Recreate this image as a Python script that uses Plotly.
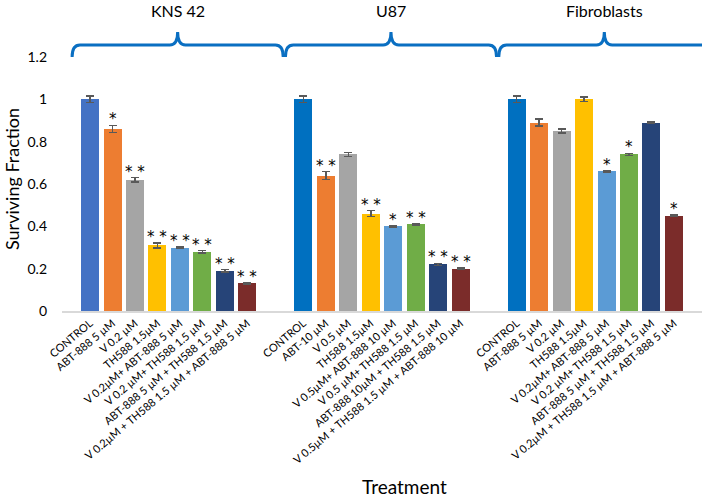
import plotly.graph_objects as go

# ---------------- data ----------------
groups = ["KNS 42", "U87", "Fibroblasts"]

kns_labels = ["CONTROL", "ABT-888 5 µM", "V 0.2 µM", "TH588 1.5µM",
              "V 0.2µM+ ABT-888 5 µM", "V 0.2 µM+ TH588 1.5 µM",
              "ABT-888 5 µM + TH588 1.5 µM",
              "V 0.2µM + TH588 1.5 µM + ABT-888 5 µM"]
u87_labels = ["CONTROL", "ABT-10 µM", "V 0.5 µM", "TH588 1.5µM",
              "V 0.5µM+ ABT-888 10 µM", "V 0.5 µM+ TH588 1.5 µM",
              "ABT-888 10µM + TH588 1.5 µM",
              "V 0.5µM + TH588 1.5 µM + ABT-888 10 µM"]
fib_labels = ["CONTROL", "ABT-888 5 µM", "V 0.2 µM", "TH588 1.5µM",
              "V 0.2µM+ ABT-888 5 µM", "V 0.2 µM+ TH588 1.5 µM",
              "ABT-888 5 µM + TH588 1.5 µM",
              "V 0.2µM + TH588 1.5 µM + ABT-888 5 µM"]

kns_values = [1.00, 0.86, 0.62, 0.31, 0.30, 0.28, 0.19, 0.13]
u87_values = [1.00, 0.64, 0.74, 0.46, 0.40, 0.41, 0.22, 0.20]
fib_values = [1.00, 0.89, 0.85, 1.00, 0.66, 0.74, 0.89, 0.45]

kns_err = [0.015, 0.017, 0.010, 0.012, 0.003, 0.005, 0.005, 0.003]
u87_err = [0.015, 0.018, 0.010, 0.014, 0.003, 0.003, 0.005, 0.003]
fib_err = [0.015, 0.017, 0.010, 0.010, 0.003, 0.005, 0.003, 0.003]

kns_sig = ["", "*", "**", "**", "**", "**", "**", "**"]
u87_sig = ["", "**", "", "**", "*", "**", "**", "**"]
fib_sig = ["", "", "", "", "*", "*", "", "*"]

y_ticks = [0, 0.2, 0.4, 0.6, 0.8, 1, 1.2]
y_tick_text = ["0", "0.2", "0.4", "0.6", "0.8", "1", "1.2"]

# ---------------- styling ----------------
kns_colors = ["#4472C4", "#ED7D31", "#A5A5A5", "#FFC000", "#5B9BD5", "#70AD47", "#264478", "#7B2C2A"]
other_colors = ["#0070C0", "#ED7D31", "#A5A5A5", "#FFC000", "#5B9BD5", "#70AD47", "#264478", "#7B2C2A"]
FONT = "Lato"
BRACE = "#0A6FC2"
group_step = 9.5

all_labels = [kns_labels, u87_labels, fib_labels]
all_values = [kns_values, u87_values, fib_values]
all_err = [kns_err, u87_err, fib_err]
all_sig = [kns_sig, u87_sig, fib_sig]
all_colors = [kns_colors, other_colors, other_colors]

fig = go.Figure()
xs, ys, es, cs, tt = [], [], [], [], []
annotations = []
shapes = []
for g, name in enumerate(groups):
    gx = [g * group_step + i for i in range(len(all_values[g]))]
    xs += gx
    ys += all_values[g]
    es += all_err[g]
    cs += all_colors[g]
    tt += all_labels[g]
    for x, v, e, s in zip(gx, all_values[g], all_err[g], all_sig[g]):
        if s:
            annotations.append(dict(
                x=x, y=v + e, xref="x", yref="y", text=" ".join(s),
                showarrow=False, yanchor="bottom", yshift=-5,
                font=dict(family="DejaVu Sans", size=15, color="#000000")))
    # brace
    left = gx[0] - 0.8
    right = gx[-1] + 1.6
    mid = (left + right) / 2
    yb, yl, yt = 1.0, 1.047, 1.098
    r = 0.35
    path = (f"M {left},{yb} Q {left},{yl} {left + r},{yl} "
            f"L {mid - r},{yl} Q {mid},{yl} {mid},{yt} "
            f"Q {mid},{yl} {mid + r},{yl} L {right - r},{yl} "
            f"Q {right},{yl} {right},{yb}")
    shapes.append(dict(type="path", path=path, xref="x", yref="paper",
                       line=dict(color=BRACE, width=3)))
    annotations.append(dict(
        x=mid, y=1.182, xref="x", yref="paper", text=name, showarrow=False,
        xanchor="center", yanchor="middle",
        font=dict(family=FONT, size=16, color="#000000")))

fig.add_trace(go.Bar(
    x=xs, y=ys, width=0.8, marker=dict(color=cs, line=dict(width=0)),
    error_y=dict(type="data", array=es, visible=True, color="#595959",
                 thickness=1.5, width=4),
    showlegend=False))

annotations.append(dict(
    x=-0.078, y=0.52, xref="paper", yref="paper", text="Surviving Fraction",
    textangle=-90, showarrow=False, xanchor="center", yanchor="middle",
    font=dict(family=FONT, size=18, color="#000000")))
annotations.append(dict(
    x=0.535, y=-0.69, xref="paper", yref="paper", text="Treatment",
    showarrow=False, xanchor="center", yanchor="middle",
    font=dict(family=FONT, size=19, color="#000000")))

fig.update_layout(
    width=715, height=497,
    margin=dict(l=62, r=13, t=57, b=186, autoexpand=False),
    paper_bgcolor="white", plot_bgcolor="white",
    annotations=annotations, shapes=shapes,
    bargap=0,
)
fig.update_xaxes(
    range=[-1.25, 2 * group_step + 7 + 1.25],
    tickmode="array", tickvals=xs, ticktext=tt, tickangle=-40,
    tickfont=dict(family=FONT, size=11, color="#000000"),
    showline=True, linecolor="#D9D9D9", linewidth=1.5,
    showgrid=False, zeroline=False, ticks="", automargin=False)
fig.update_yaxes(
    range=[0, 1.2], tickmode="array", tickvals=y_ticks, ticktext=y_tick_text,
    tickfont=dict(family=FONT, size=14, color="#000000"),
    showline=False, showgrid=False, zeroline=False, ticks="",
    ticklabelstandoff=14, automargin=False)

# remove the default 8px page margin so the figure fills the window
fig.write_html("out.html", config={"displayModeBar": False},
               post_script="document.body.style.margin='0';document.body.style.overflow='hidden';")
